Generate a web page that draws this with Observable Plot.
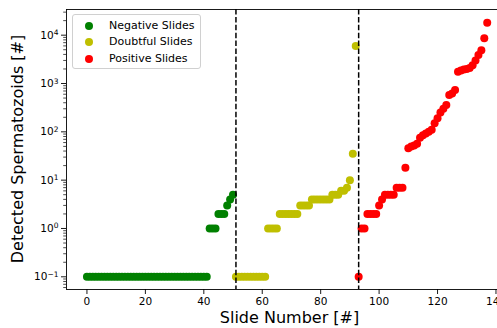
<!DOCTYPE html>
<html><head><meta charset="utf-8">
<script src="https://cdn.jsdelivr.net/npm/d3@7"></script>
<script src="https://cdn.jsdelivr.net/npm/@observablehq/plot@0.6"></script>
<style>
html,body{margin:0;padding:0;background:#fff;overflow:hidden;width:497px;height:328px}
#chart{position:relative;width:497px;height:328px;overflow:hidden;font-family:"DejaVu Sans",sans-serif}
#chart svg{max-width:none !important;display:block}
#legend{position:absolute;left:72px;top:14px;width:129px;height:55px;border:1px solid #d0d0d0;border-radius:3px;background:rgba(255,255,255,0.85);box-sizing:border-box}
.li{position:absolute;left:0;height:16px;font-size:11px;line-height:16px;color:#000;white-space:nowrap}
.li span.dot{position:absolute;left:12px;top:4px;width:8px;height:8px;border-radius:50%}
.li span.t{position:absolute;left:36px;top:0}
</style></head><body><div id="chart"></div><script>
// Categories
const categories = ["Negative Slides", "Doubtful Slides", "Positive Slides"];
const colors = ["#008000", "#bfbf00", "#ff0000"];
// First slide number of each group (slides are numbered consecutively)
const negativeStart = 0;
const doubtfulStart = 51;
const positiveStart = 93;
// Detected spermatozoids (0 is plotted as 0.1 on the log axis)
const negativeCounts = [
  0.1,0.1,0.1,0.1,0.1,0.1,0.1,0.1,0.1,0.1,
  0.1,0.1,0.1,0.1,0.1,0.1,0.1,0.1,0.1,0.1,
  0.1,0.1,0.1,0.1,0.1,0.1,0.1,0.1,0.1,0.1,
  0.1,0.1,0.1,0.1,0.1,0.1,0.1,0.1,0.1,0.1,
  0.1,0.1,1,1,1,2,2,2,3,4,5
];
const doubtfulCounts = [
  0.1,0.1,0.1,0.1,0.1,0.1,0.1,0.1,0.1,0.1,0.1,
  1,1,1,1,
  2,2,2,2,2,2,2,
  3,3,3,3,
  4,4,4,4,4,4,4,
  5,5,5,6,6,7,10,35,6000
];
const positiveCounts = [
  0.1,1,1,2,2,2,2,3,4,5,5,5,5,7,7,7,18,
  46,50,52,57,75,85,92,100,110,150,190,250,300,360,580,620,730,
  1750,1850,1950,2000,2100,2400,3000,3900,4900,8600,18000
];
// Dashed separators
const separators = [51, 93];
// Ticks
const xTicks = [0, 20, 40, 60, 80, 100, 120, 140];
const yTicks = [0.1, 1, 10, 100, 1000, 10000];
const yTickExponents = ["−1", "0", "1", "2", "3", "4"];
const xLabel = "Slide Number [#]";
const yLabel = "Detected Spermatozoids [#]";

const xDomain = [-7, 146];
const yDomain = [0.0546, 34000];

const rows = [];
[[negativeStart, negativeCounts], [doubtfulStart, doubtfulCounts], [positiveStart, positiveCounts]]
  .forEach(([start, counts], g) => counts.forEach((v, i) => rows.push({slide: start + i, count: v, group: categories[g]})));

const minorTicks = [];
for (let e = -2; e <= 4; e++) for (let m = 2; m <= 9; m++) {
  const v = m * Math.pow(10, e);
  if (v > yDomain[0] && v < yDomain[1]) minorTicks.push(v);
}

const W = 530, H = 328, mL = 66, mR = 17, mT = 9, mB = 39;
const chart = Plot.plot({
  width: W, height: H,
  marginTop: mT, marginBottom: mB, marginLeft: mL, marginRight: mR,
  style: {fontFamily: "DejaVu Sans", fontSize: "10.5px", color: "#000", background: "transparent", overflow: "visible", maxWidth: "none"},
  x: {domain: xDomain},
  y: {type: "log", domain: yDomain},
  color: {domain: categories, range: colors},
  marks: [
    Plot.axisX({ticks: xTicks, tickSize: 5, tickPadding: 3, label: null, tickFormat: d => String(d), stroke: "#000", strokeWidth: 0.9}),
    Plot.axisY({ticks: yTicks, tickSize: 5, tickPadding: 3, label: null, tickFormat: d => "10^" + yTickExponents[yTicks.indexOf(d)], stroke: "#000", strokeWidth: 0.9}),
    Plot.axisY({ticks: minorTicks, tickSize: 2.8, label: null, tickFormat: () => "", stroke: "#000", strokeWidth: 0.7}),
    Plot.dot(rows, {x: "slide", y: "count", fill: "group", r: 4, stroke: null}),
    Plot.ruleX(separators, {stroke: "#000", strokeWidth: 1.5, strokeDasharray: "5.5,2.4"}),
    Plot.ruleX([xDomain[0]], {stroke: "#000", strokeWidth: 0.9}),
    Plot.ruleY([yDomain[0], yDomain[1]], {stroke: "#000", strokeWidth: 0.9})
  ]
});

const svg = d3.select(chart);
// Render y tick labels as 10 with a raised exponent
svg.selectAll("text").each(function() {
  const s = this.textContent;
  if (s.startsWith("10^")) {
    const exp = s.slice(3);
    const sel = d3.select(this);
    sel.text("");
    sel.append("tspan").text("10");
    sel.append("tspan").attr("dy", "-0.45em").style("font-size", "7.5px").text(exp);
  }
});
svg.append("text")
  .attr("x", (mL + W - mR) / 2).attr("y", 318)
  .attr("text-anchor", "middle").attr("dominant-baseline", "middle")
  .style("font-family", "DejaVu Sans").style("font-size", "16px").attr("fill", "#000")
  .text(xLabel);
svg.append("text")
  .attr("transform", `translate(18,${(mT + H - mB) / 2}) rotate(-90)`)
  .attr("text-anchor", "middle").attr("dominant-baseline", "middle")
  .style("font-family", "DejaVu Sans").style("font-size", "16px").attr("fill", "#000")
  .text(yLabel);

const container = document.getElementById("chart");
container.appendChild(chart);
const legend = document.createElement("div");
legend.id = "legend";
categories.forEach((c, i) => {
  const item = document.createElement("div");
  item.className = "li";
  item.style.top = (2.5 + i * 16.6) + "px";
  item.style.width = "120px";
  const dot = document.createElement("span");
  dot.className = "dot";
  dot.style.background = colors[i];
  const t = document.createElement("span");
  t.className = "t";
  t.textContent = c;
  item.appendChild(dot); item.appendChild(t);
  legend.appendChild(item);
});
container.appendChild(legend);
</script></body></html>
